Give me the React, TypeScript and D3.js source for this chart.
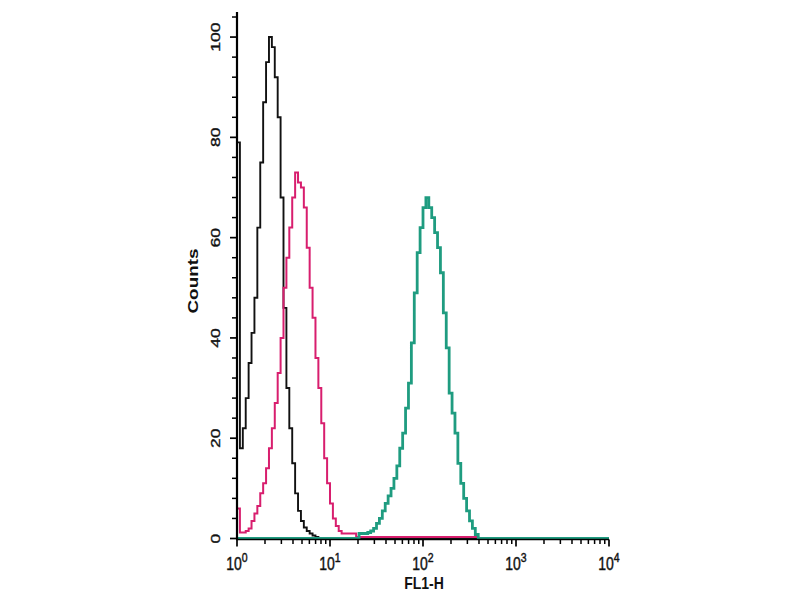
import React from "react";
import * as d3 from "d3";

// Histogram channels: 32 channels per decade, 4 decades (10^0 .. 10^4)
const CHANNELS_PER_DECADE = 32;
const TOTAL_CHANNELS = 128;

// Isotype / unstained control (black), starting at channel 0
const blackStart = 0;
const blackCounts = [
  79, 18, 22, 28, 35, 41, 48, 62, 75, 87, 95, 100, 98, 92, 84, 68, 46, 30, 22,
  15, 9, 5.5, 3.5, 2.2, 1.5, 1, 0.6, 0.3,
];

// Pink sample, starting at channel 0
const pinkStart = 0;
const pinkCounts = [
  6, 1.2, 1.2, 1.5, 2, 3.5, 5, 6.5, 9, 11, 14, 18, 22, 27, 33, 40, 50, 56, 62,
  68, 73, 71, 70, 66, 58, 50, 44, 36, 30, 23, 16, 11, 7, 4, 2.5, 1.5, 1, 1, 1,
  1, 1, 0.3, 0.3, 0.3, 0.3, 0.3, 0.3, 0.3, 0.3, 0.3, 0.3, 0.3, 0.3, 0.3, 0.3,
  0.3, 0.3, 0.3, 0.3, 0.3, 0.3, 0.3, 0.3, 0.3, 0.3, 0.3, 0.3, 0.3, 0.3, 0.3,
  0.3, 0.3, 0.3, 0.3, 0.3, 0.3, 0.3, 0.3, 0.3, 0.3, 0.3, 0.3, 0.3,
];

// Green (antibody-stained) sample, starting at channel 42
const greenStart = 42;
const greenCounts = [
  1, 1, 1, 1.2, 1.5, 2, 3, 4, 5.5, 7, 8.5, 10, 12, 14.5, 18, 21, 26, 31, 39, 49,
  57, 62, 66, 68, 66, 64, 61, 58, 53, 45, 38, 29, 25, 21, 15, 11, 8, 5.5, 3.5,
  2, 0.8,
];

const yTickValues = [0, 20, 40, 60, 80, 100];
const yMinorStep = 4;
const xDecades = [0, 1, 2, 3, 4];

const seriesList = [
  { name: "control", start: blackStart, counts: blackCounts, color: "#111111", width: 1.9 },
  { name: "sample", start: pinkStart, counts: pinkCounts, color: "#d81e6e", width: 2 },
  { name: "stained", start: greenStart, counts: greenCounts, color: "#1f9c80", width: 2.8 },
];

export default function App() {
  const W = 800;
  const H = 600;
  const x = d3.scaleLog().domain([1, 1e4]).range([237, 609]);
  const y = d3.scaleLinear().domain([0, 105]).range([538.5, 12]);
  const xAxisY = 539.5;

  const chanX = (c: number) => x(Math.pow(10, c / CHANNELS_PER_DECADE));

  const line = d3
    .line<{ c: number; v: number }>()
    .x((d) => chanX(d.c))
    .y((d) => y(d.v))
    .curve(d3.curveStepAfter);

  const buildPoints = (start: number, counts: number[]) => {
    const pts: { c: number; v: number }[] = [];
    if (start > 0) pts.push({ c: 0, v: 0 });
    pts.push({ c: start, v: 0 });
    counts.forEach((v, k) => pts.push({ c: start + k, v }));
    pts.push({ c: start + counts.length, v: 0 });
    pts.push({ c: TOTAL_CHANNELS, v: 0 });
    return pts;
  };

  const yMinor = d3.range(0, 105, yMinorStep).filter((v) => v % 20 !== 0);
  const xMinor: number[] = [];
  for (let d = 0; d < 4; d++) for (let m = 2; m <= 9; m++) xMinor.push(m * Math.pow(10, d));

  const font = "'Liberation Sans', Arial, Helvetica, sans-serif";

  return (
    <svg
      width={W}
      height={H}
      style={{ position: "absolute", left: 0, top: 0, background: "#fff" }}
    >
      <rect x={0} y={0} width={W} height={H} fill="#fff" />

      {/* Histograms */}
      {seriesList.map((s) => (
        <path
          key={s.name}
          d={line(buildPoints(s.start, s.counts)) || ""}
          fill="none"
          stroke={s.color}
          strokeWidth={s.width}
          strokeLinejoin="miter"
        />
      ))}

      {/* Y axis */}
      <line x1={237} x2={237} y1={y(105)} y2={xAxisY} stroke="#000" strokeWidth={2.2} />
      {yTickValues.map((v) => (
        <line key={"ym" + v} x1={230} x2={237} y1={y(v)} y2={y(v)} stroke="#000" strokeWidth={1.7} />
      ))}
      {yMinor.map((v) => (
        <line key={"yn" + v} x1={232} x2={237} y1={y(v)} y2={y(v)} stroke="#000" strokeWidth={1.5} />
      ))}
      {yTickValues.map((v) => (
        <text
          key={"yl" + v}
          transform={`translate(220, ${y(v)}) scale(1, 1.35) rotate(-90)`}
          textAnchor="middle"
          fontFamily={font}
          fontSize={13}
          fill="#111"
          stroke="#111"
          strokeWidth={0.35}
        >
          {v}
        </text>
      ))}
      <text
        transform={`translate(198, 281) scale(1, 1.35) rotate(-90)`}
        textAnchor="middle"
        fontFamily={font}
        fontSize={14}
        fontWeight="bold"
        fill="#111"
      >
        Counts
      </text>

      {/* X axis */}
      <line x1={236} x2={609} y1={xAxisY} y2={xAxisY} stroke="#000" strokeWidth={1.7} />
      {xDecades.map((d) => (
        <line
          key={"xm" + d}
          x1={x(Math.pow(10, d))}
          x2={x(Math.pow(10, d))}
          y1={xAxisY}
          y2={xAxisY + 7}
          stroke="#000"
          strokeWidth={1.7}
        />
      ))}
      {xMinor.map((v, i) => (
        <line
          key={"xn" + i}
          x1={x(v)}
          x2={x(v)}
          y1={xAxisY}
          y2={xAxisY + 4.5}
          stroke="#000"
          strokeWidth={1.5}
        />
      ))}
      {xDecades.map((d) => (
        <text
          key={"xl" + d}
          transform={`translate(${x(Math.pow(10, d))}, 570) scale(1, 1.3)`}
          textAnchor="middle"
          fontFamily={font}
          fontSize={14}
          fill="#111"
          stroke="#111"
          strokeWidth={0.35}
        >
          10
          <tspan fontSize={10.5} dy={-6.5}>
            {d}
          </tspan>
        </text>
      ))}
      <text
        transform={`translate(424, 589) scale(1, 1.2)`}
        textAnchor="middle"
        fontFamily={font}
        fontSize={14}
        fontWeight="bold"
        fill="#111"
      >
        FL1-H
      </text>
    </svg>
  );
}
